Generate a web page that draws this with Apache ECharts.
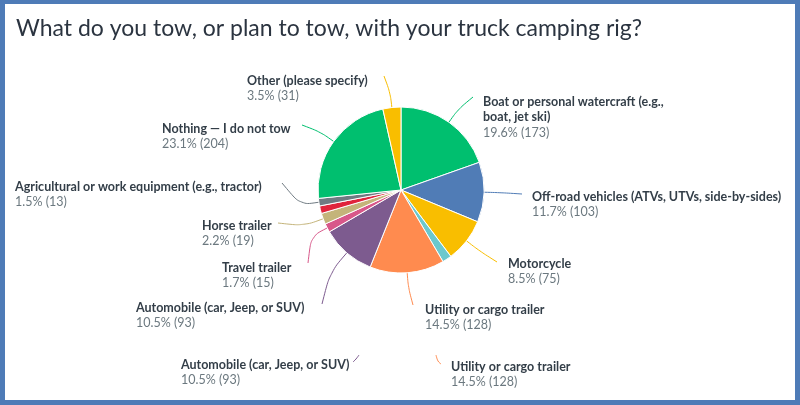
<!DOCTYPE html>
<html>
<head>
<meta charset="utf-8">
<script src="https://cdn.jsdelivr.net/npm/echarts@6/dist/echarts.min.js"></script>
<style>
html,body{margin:0;padding:0;background:#fff;}
#chart{width:800px;height:405px;}
</style>
</head>
<body>
<div id="chart"></div>
<script>
// ---- data ----
const titleText = 'What do you tow, or plan to tow, with your truck camping rig?';
const categories = [
  'Boat or personal watercraft (e.g., boat, jet ski)',
  'Off-road vehicles (ATVs, UTVs, side-by-sides)',
  'Motorcycle',
  '(unlabeled slice A)',
  'Utility or cargo trailer',
  'Automobile (car, Jeep, or SUV)',
  'Travel trailer',
  'Horse trailer',
  '(unlabeled slice B)',
  'Agricultural or work equipment (e.g., tractor)',
  'Nothing \u2014 I do not tow',
  'Other (please specify)'
];
const counts = [173, 103, 75, 16, 128, 93, 15, 19, 13, 13, 204, 31];
const hiddenLabels = ['(unlabeled slice A)', '(unlabeled slice B)'];
const repeatedLabels = ['Automobile (car, Jeep, or SUV)', 'Utility or cargo trailer'];

// ---- styles / layout ----
const colors = ['#00bf6f','#507cb6','#f9be00','#6bc8cd','#ff8b4f','#7d5b8f','#d8588a','#c4b47a','#e0243c','#6f7a82','#00bf6f','#f9be00'];
const labelLayoutTable = {
  'Boat or personal watercraft (e.g., boat, jet ski)': {x:483, y:94, end:[473,97], wrap:34},
  'Off-road vehicles (ATVs, UTVs, side-by-sides)': {x:532, y:189, end:[522,194]},
  'Motorcycle': {x:508, y:256, end:[497,262]},
  'Utility or cargo trailer': {x:425, y:302, end:[413,305]},
  'Automobile (car, Jeep, or SUV)': {x:136, y:300, end:[322,304]},
  'Travel trailer': {x:222, y:260, end:[308,263]},
  'Horse trailer': {x:202, y:218, end:[278,223]},
  'Agricultural or work equipment (e.g., tractor)': {x:15, y:179, end:[282,183]},
  'Nothing \u2014 I do not tow': {x:162, y:121, end:[302,125]},
  'Other (please specify)': {x:247, y:73, end:[384,76]}
};
const FONT = 'Lato';
const FS = 12.5;
const nameColor = '#333e48';
const valColor = '#6b787f';

const total = counts.reduce((a, b) => a + b, 0);
function pctText(v) { return (v / total * 100).toFixed(1) + '% (' + v + ')'; }
function wrapName(name, maxChars) {
  if (!maxChars) return [name];
  const words = name.split(' ');
  const lines = []; let cur = '';
  words.forEach(w => {
    const t = cur ? cur + ' ' + w : w;
    if (t.length > maxChars && cur) { lines.push(cur); cur = w; } else cur = t;
  });
  if (cur) lines.push(cur);
  return lines;
}
function richLabel(name, value) {
  const lay = labelLayoutTable[name] || {};
  return wrapName(name, lay.wrap).map(l => '{n|' + l + '}').join('\n') + '\n{v|' + pctText(value) + '}';
}

const data = categories.map((c, i) => {
  const item = { name: c, value: counts[i], itemStyle: { color: colors[i] } };
  if (hiddenLabels.indexOf(c) >= 0) {
    item.label = { show: false };
    item.labelLine = { show: false };
  }
  return item;
});

const rich = {
  n: { fontFamily: FONT, fontWeight: 'bold', fontSize: FS, color: nameColor, lineHeight: 15.5 },
  v: { fontFamily: FONT, fontSize: FS, color: valColor, lineHeight: 15.5 }
};
const richG = {
  n: { fontFamily: FONT, fontWeight: 'bold', fontSize: FS, fill: nameColor, lineHeight: 15.5 },
  v: { fontFamily: FONT, fontSize: FS, fill: valColor, lineHeight: 15.5 }
};

// repeated (duplicated) labels at the bottom of the reference picture
const dupPos = [
  { x: 181, y: 358, stub: [[359,355],[356,359],[353,362]], color: colors[5] },
  { x: 451, y: 360, stub: [[436,355],[438,361],[441,364]], color: colors[4] }
];
const borderColor = '#4e7bb7';
const graphics = [
  { type: 'rect', shape: { x: 0, y: 0, width: 800, height: 4 }, style: { fill: borderColor }, z: 100 },
  { type: 'rect', shape: { x: 0, y: 400, width: 800, height: 5 }, style: { fill: borderColor }, z: 100 },
  { type: 'rect', shape: { x: 0, y: 0, width: 5, height: 405 }, style: { fill: borderColor }, z: 100 },
  { type: 'rect', shape: { x: 795, y: 0, width: 5, height: 405 }, style: { fill: borderColor }, z: 100 }
];
repeatedLabels.forEach((name, i) => {
  const v = counts[categories.indexOf(name)];
  graphics.push({
    type: 'text', left: dupPos[i].x, top: dupPos[i].y,
    style: { text: '{n|' + name + '}\n{v|' + pctText(v) + '}', rich: richG }
  });
  graphics.push({
    type: 'polyline', shape: { points: dupPos[i].stub, smooth: 0.4 },
    style: { stroke: dupPos[i].color, lineWidth: 1, fill: null }
  });
});

const chart = echarts.init(document.getElementById('chart'), null, { renderer: 'canvas' });
chart.setOption({
  backgroundColor: '#fff',
  animation: false,
  title: {
    text: titleText, left: 11, top: 12,
    textStyle: { fontFamily: FONT, fontWeight: 'normal', fontSize: 23, color: '#2b3440' }
  },
  graphic: graphics,
  series: [{
    type: 'pie',
    center: [401, 190],
    radius: 83,
    startAngle: 90,
    clockwise: true,
    avoidLabelOverlap: false,
    itemStyle: { borderColor: '#fff', borderWidth: 1 },
    label: {
      show: true,
      formatter: p => richLabel(p.name, p.value),
      rich: rich
    },
    labelLine: { show: true, length: 10, length2: 10, smooth: 0.35, lineStyle: { width: 1 } },
    labelLayout: function (params) {
      const lay = labelLayoutTable[categories[params.dataIndex]];
      if (!lay) return {};
      const res = { x: lay.x, y: lay.y, align: 'left', verticalAlign: 'top' };
      const lp = params.labelLinePoints;
      if (lp && lp.length) {
        const p0 = lp[0];
        let dx = lp[1][0] - p0[0], dy = lp[1][1] - p0[1];
        const dl = Math.sqrt(dx * dx + dy * dy) || 1;
        dx /= dl; dy /= dl;
        const ex = lay.end[0] - p0[0], ey = lay.end[1] - p0[1];
        const dist = Math.sqrt(ex * ex + ey * ey);
        const k = dist * 0.45;
        res.labelLinePoints = [p0, [p0[0] + dx * k, p0[1] + dy * k], lay.end];
      }
      return res;
    },
    data: data
  }]
});
</script>
</body>
</html>
